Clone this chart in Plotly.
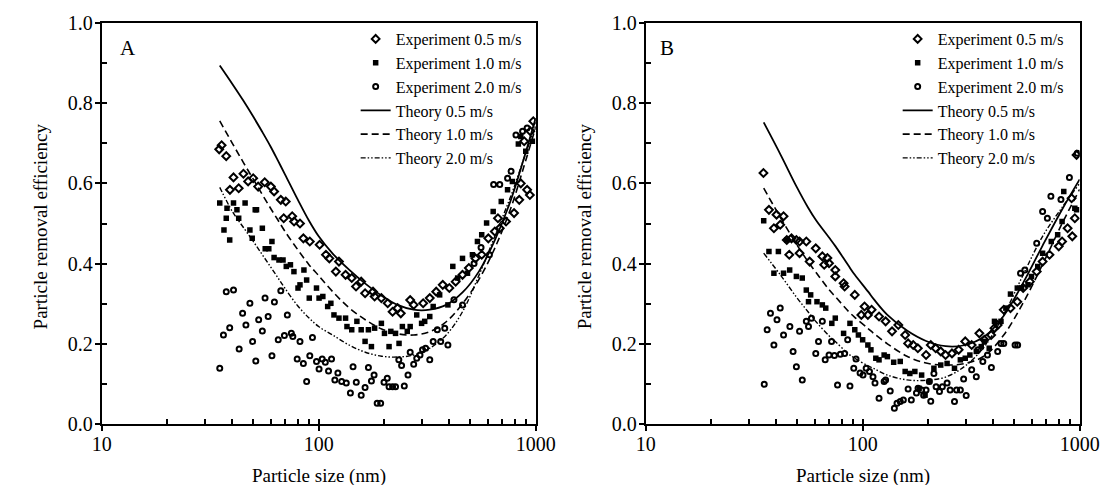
import plotly.graph_objects as go

# ---------------- data ----------------
x_major = [10, 100, 1000]
x_minor = [20, 30, 40, 50, 60, 70, 80, 90, 200, 300, 400, 500, 600, 700, 800, 900]
y_major = [0.0, 0.2, 0.4, 0.6, 0.8, 1.0]
y_minor = [0.1, 0.3, 0.5, 0.7, 0.9]

# Panel A theory curves
A_th_d = [35, 40, 45, 50, 55, 60, 65, 70, 80, 90, 100, 116, 138, 164, 195, 231, 274, 325, 387, 460, 547, 650, 770, 880, 1000]
A_th05 = [0.894, 0.848, 0.806, 0.766, 0.728, 0.692, 0.656, 0.622, 0.56, 0.508, 0.468, 0.425, 0.385, 0.35, 0.32, 0.297, 0.285, 0.285, 0.297, 0.328, 0.38, 0.46, 0.56, 0.66, 0.763]
A_th10 = [0.756, 0.7, 0.652, 0.61, 0.572, 0.538, 0.508, 0.48, 0.435, 0.398, 0.37, 0.33, 0.29, 0.26, 0.237, 0.225, 0.222, 0.23, 0.255, 0.3, 0.36, 0.44, 0.54, 0.64, 0.74]
A_th20 = [0.59, 0.53, 0.49, 0.455, 0.422, 0.392, 0.364, 0.338, 0.295, 0.265, 0.243, 0.222, 0.197, 0.179, 0.169, 0.167, 0.172, 0.189, 0.222, 0.28, 0.37, 0.47, 0.57, 0.66, 0.745]

# Panel A experiments
A_e05_d = [34.8, 35.7, 37.5, 39, 40.5, 42.8, 45, 47.3, 49.9, 52.6, 56.4, 60.2, 62.3, 66.9, 69, 70.5, 75.5, 77, 82, 85, 91, 101, 108, 112, 120, 124, 133, 142, 148.6, 157, 163.6, 178, 181, 194.5, 208, 219, 231, 239, 264, 274, 303, 325, 348, 373, 400, 428, 460, 492, 528, 564, 605, 648, 670, 683, 730, 795, 840, 854, 885, 913, 940, 945, 975]
A_e05_v = [0.685, 0.695, 0.668, 0.584, 0.615, 0.588, 0.624, 0.605, 0.613, 0.592, 0.603, 0.592, 0.58, 0.559, 0.513, 0.555, 0.518, 0.505, 0.5, 0.463, 0.455, 0.447, 0.422, 0.413, 0.38, 0.405, 0.372, 0.364, 0.343, 0.355, 0.326, 0.33, 0.318, 0.314, 0.301, 0.28, 0.289, 0.276, 0.309, 0.297, 0.301, 0.314, 0.33, 0.347, 0.339, 0.355, 0.372, 0.389, 0.413, 0.422, 0.463, 0.48, 0.513, 0.488, 0.505, 0.526, 0.559, 0.6, 0.705, 0.584, 0.571, 0.73, 0.755]

A_e10_d = [35, 36.6, 37.5, 37.8, 38.9, 40.5, 42, 42.8, 45.8, 48.2, 49.4, 51, 51.7, 55, 56.7, 58.9, 60.9, 62.3, 65.6, 68.5, 70.9, 74.1, 76.9, 80.3, 82, 85.5, 88, 90.5, 97.7, 100.4, 104.5, 110, 113.8, 117.6, 124, 133, 135, 142, 150, 157, 163.6, 169.5, 175, 181, 194.5, 201, 211, 215, 226, 234.6, 243, 256, 264, 283, 298, 308, 325, 337, 361, 394, 415, 437, 460, 485, 511, 539, 564, 594, 637, 694, 742, 781, 832, 854, 900, 966]
A_e10_v = [0.551, 0.484, 0.513, 0.538, 0.459, 0.551, 0.534, 0.513, 0.551, 0.484, 0.463, 0.534, 0.534, 0.488, 0.437, 0.437, 0.455, 0.415, 0.409, 0.409, 0.393, 0.397, 0.38, 0.339, 0.347, 0.384, 0.359, 0.314, 0.339, 0.314, 0.318, 0.293, 0.301, 0.272, 0.264, 0.264, 0.243, 0.235, 0.256, 0.235, 0.206, 0.235, 0.193, 0.239, 0.251, 0.226, 0.193, 0.231, 0.226, 0.201, 0.243, 0.231, 0.243, 0.272, 0.251, 0.256, 0.268, 0.293, 0.322, 0.297, 0.393, 0.364, 0.413, 0.376, 0.422, 0.455, 0.472, 0.501, 0.53, 0.555, 0.584, 0.605, 0.698, 0.717, 0.68, 0.705]

A_e20_d = [35, 36.4, 37.5, 38.9, 40.5, 43, 44.6, 46.2, 48.2, 49.6, 51.3, 52.9, 55, 56.6, 58.5, 60.9, 62.5, 65.1, 66.9, 69.5, 71.7, 74.8, 76, 79.6, 82, 85, 88, 91, 93.6, 97.7, 100.4, 103.8, 107.3, 111, 114.6, 118.7, 122.6, 127.6, 134, 140, 144, 149, 157, 163.6, 169.5, 175, 180, 186, 193, 200, 207, 211, 219, 226, 234, 241, 248, 258, 264, 274, 283, 293, 301, 311, 325, 337, 352, 365, 381, 394, 420, 460, 520, 560, 612, 640, 683, 742, 770, 811, 870, 913]
A_e20_v = [0.139, 0.222, 0.33, 0.24, 0.334, 0.187, 0.276, 0.247, 0.301, 0.206, 0.157, 0.26, 0.232, 0.314, 0.268, 0.17, 0.304, 0.21, 0.332, 0.221, 0.272, 0.226, 0.218, 0.162, 0.206, 0.151, 0.106, 0.17, 0.216, 0.156, 0.137, 0.162, 0.154, 0.132, 0.162, 0.11, 0.127, 0.106, 0.102, 0.077, 0.143, 0.104, 0.072, 0.091, 0.141, 0.107, 0.122, 0.052, 0.052, 0.104, 0.114, 0.093, 0.093, 0.093, 0.16, 0.146, 0.095, 0.122, 0.179, 0.149, 0.164, 0.172, 0.185, 0.189, 0.16, 0.206, 0.235, 0.206, 0.239, 0.197, 0.31, 0.297, 0.4, 0.44, 0.422, 0.597, 0.597, 0.613, 0.63, 0.721, 0.73, 0.738]

# Panel B theory curves
B_th_d = [35, 42, 49.6, 56, 61, 70, 75, 86, 92, 106, 113, 130, 160, 196, 241, 297, 364, 447, 549, 675, 830, 1000]
B_th05 = [0.752, 0.67, 0.592, 0.54, 0.508, 0.465, 0.443, 0.395, 0.372, 0.33, 0.31, 0.272, 0.233, 0.207, 0.194, 0.197, 0.218, 0.27, 0.352, 0.445, 0.535, 0.61]
B_th10 = [0.588, 0.513, 0.448, 0.405, 0.378, 0.335, 0.317, 0.281, 0.266, 0.238, 0.225, 0.2, 0.169, 0.152, 0.147, 0.151, 0.17, 0.222, 0.302, 0.398, 0.5, 0.585]
B_th20 = [0.426, 0.37, 0.316, 0.28, 0.255, 0.22, 0.205, 0.175, 0.164, 0.145, 0.138, 0.122, 0.11, 0.109, 0.117, 0.145, 0.193, 0.272, 0.372, 0.468, 0.54, 0.6]

# Panel B experiments
B_e05_d = [34.9, 37, 39, 40.1, 41.7, 43.2, 44.7, 45.9, 47, 49.5, 51.2, 51.2, 55, 57, 60.8, 65.2, 66.5, 68.8, 70, 74.8, 74.8, 81.7, 82.6, 92, 98.6, 102, 105.7, 110, 119, 127.6, 136.6, 146, 157, 162, 171, 179.6, 196, 206, 217, 229, 241, 258, 277, 297, 318, 345, 364, 391, 405, 419, 447, 480, 516, 549, 590, 634, 675, 726, 801, 830, 880, 918, 925, 950, 968]
B_e05_v = [0.626, 0.534, 0.488, 0.522, 0.497, 0.518, 0.459, 0.422, 0.463, 0.459, 0.455, 0.426, 0.455, 0.405, 0.438, 0.418, 0.397, 0.414, 0.401, 0.384, 0.368, 0.351, 0.343, 0.322, 0.272, 0.293, 0.272, 0.285, 0.268, 0.256, 0.231, 0.247, 0.222, 0.201, 0.197, 0.189, 0.172, 0.197, 0.189, 0.181, 0.172, 0.176, 0.185, 0.206, 0.197, 0.226, 0.21, 0.222, 0.239, 0.247, 0.285, 0.289, 0.305, 0.339, 0.355, 0.38, 0.405, 0.422, 0.443, 0.455, 0.488, 0.563, 0.468, 0.513, 0.671]

B_e10_d = [35, 37, 39, 40.9, 43.2, 44.7, 46.1, 49.5, 52.7, 55, 56.3, 57.6, 61.6, 65.2, 67.6, 72.1, 74.8, 81.7, 87.4, 92, 95.6, 100, 105.7, 109.2, 115, 119, 125.6, 130, 139, 149, 157, 165, 174, 182, 187, 194, 203, 213, 229, 245, 265, 282, 297, 312, 334, 352, 364, 383, 405, 434, 457, 480, 516, 540, 578, 600, 641, 675, 740, 792, 830, 845, 950, 968]
B_e10_v = [0.507, 0.43, 0.376, 0.43, 0.376, 0.459, 0.384, 0.368, 0.364, 0.334, 0.305, 0.322, 0.305, 0.297, 0.289, 0.251, 0.264, 0.226, 0.251, 0.235, 0.222, 0.21, 0.197, 0.185, 0.164, 0.16, 0.172, 0.168, 0.154, 0.156, 0.131, 0.126, 0.131, 0.089, 0.122, 0.072, 0.106, 0.139, 0.147, 0.151, 0.139, 0.16, 0.164, 0.172, 0.181, 0.193, 0.206, 0.189, 0.256, 0.256, 0.289, 0.324, 0.339, 0.339, 0.347, 0.368, 0.393, 0.426, 0.455, 0.472, 0.505, 0.58, 0.538, 0.534]

B_e20_d = [35.2, 36.3, 37.6, 39, 40.3, 41.7, 43.2, 46.2, 47.8, 49.5, 51.2, 52.7, 55, 56.3, 58.1, 60.8, 62.6, 65.2, 67.2, 70, 71.9, 74.1, 76.6, 78.9, 82.6, 85.3, 87.4, 91, 93.2, 97.3, 100.4, 103.8, 107.5, 111.6, 114, 119, 125.6, 127.6, 134, 140, 144, 149, 154, 162, 167.6, 177, 180, 187, 191, 196, 203, 206, 213, 218, 226, 233, 245, 253, 265, 271, 282, 292, 300, 318, 334, 340, 358, 376, 392, 419, 434, 447, 504, 518, 534, 559, 634, 675, 710, 737, 820, 897, 975]
B_e20_v = [0.099, 0.235, 0.276, 0.197, 0.26, 0.289, 0.222, 0.243, 0.181, 0.143, 0.231, 0.11, 0.256, 0.243, 0.264, 0.176, 0.206, 0.256, 0.16, 0.172, 0.206, 0.171, 0.097, 0.174, 0.176, 0.21, 0.095, 0.139, 0.162, 0.127, 0.122, 0.139, 0.131, 0.118, 0.102, 0.064, 0.106, 0.11, 0.082, 0.039, 0.052, 0.056, 0.06, 0.087, 0.06, 0.077, 0.089, 0.085, 0.072, 0.085, 0.106, 0.057, 0.126, 0.093, 0.081, 0.093, 0.102, 0.085, 0.056, 0.085, 0.085, 0.112, 0.071, 0.135, 0.118, 0.185, 0.156, 0.172, 0.141, 0.181, 0.201, 0.201, 0.197, 0.197, 0.376, 0.384, 0.451, 0.53, 0.513, 0.568, 0.56, 0.615, 0.675]

legend_names = ["Experiment 0.5 m/s", "Experiment 1.0 m/s", "Experiment 2.0 m/s",
                "Theory 0.5 m/s", "Theory 1.0 m/s", "Theory 2.0 m/s"]

# ---------------- figure ----------------
FONT = "Liberation Serif"
W, H = 1115, 485
MT, MB = 15, 69
fig = go.Figure()

panels = [
    dict(x="x", y="y", leg="legend",
         exp=[(A_e05_d, A_e05_v), (A_e10_d, A_e10_v), (A_e20_d, A_e20_v)],
         th=(A_th_d, [A_th05, A_th10, A_th20])),
    dict(x="x2", y="y2", leg="legend2",
         exp=[(B_e05_d, B_e05_v), (B_e10_d, B_e10_v), (B_e20_d, B_e20_v)],
         th=(B_th_d, [B_th05, B_th10, B_th20])),
]
markers = [
    dict(symbol="diamond-open", size=6, color="black", line=dict(width=2, color="black")),
    dict(symbol="square", size=5.5, color="black"),
    dict(symbol="circle-open", size=5, color="black", line=dict(width=2, color="black")),
]
dashes = ["solid", "7px,4px", "5px,2px,1.5px,2px,1.5px,2px"]
widths = [1.8, 1.6, 1.4]

for p in panels:
    for i, (d, v) in enumerate(p["exp"]):
        fig.add_trace(go.Scatter(x=d, y=v, mode="markers", marker=markers[i],
                                 name=legend_names[i], xaxis=p["x"], yaxis=p["y"],
                                 legend=p["leg"]))
    td, curves = p["th"]
    for i, v in enumerate(curves):
        fig.add_trace(go.Scatter(x=td, y=v, mode="lines", name=legend_names[3 + i],
                                 line=dict(color="black", width=widths[i], dash=dashes[i],
                                           shape="spline", smoothing=1.0),
                                 xaxis=p["x"], yaxis=p["y"], legend=p["leg"]))

# empty traces that activate the tick-overlay axes
fig.add_trace(go.Scatter(x=[], y=[], xaxis="x3", yaxis="y3", showlegend=False))
fig.add_trace(go.Scatter(x=[], y=[], xaxis="x4", yaxis="y4", showlegend=False))

domA = [86 / W, 532 / W]
domB = [645 / W, 1091 / W]
tickfont = dict(family=FONT, size=20, color="black")

def xmain(dom, anchor):
    return dict(type="log", range=[1, 3], domain=dom, anchor=anchor,
                tickvals=x_major, ticktext=[str(v) for v in x_major],
                ticks="outside", ticklen=5, tickwidth=1.5, tickcolor="black",
                ticklabelstandoff=-4,
                showline=True, linewidth=2, linecolor="black", mirror=True,
                showgrid=False, zeroline=False, tickfont=tickfont)

def ymain(anchor):
    return dict(range=[0, 1], domain=[0, 1], anchor=anchor,
                tickvals=y_major, ticktext=["%.1f" % v for v in y_major],
                ticks="outside", ticklen=5, tickwidth=1.5, tickcolor="black",
                ticklabelstandoff=-2,
                showline=True, linewidth=2, linecolor="black", mirror=True,
                showgrid=False, zeroline=False, tickfont=tickfont)

def xover(base, anchor):
    return dict(type="log", range=[1, 3], overlaying=base, anchor=anchor,
                tickvals=x_major + x_minor, ticks="inside", ticklen=5, tickwidth=1.5,
                tickcolor="black", showticklabels=False, showline=False,
                showgrid=False, zeroline=False)

def yover(base, anchor):
    return dict(range=[0, 1], overlaying=base, anchor=anchor,
                tickvals=y_major + y_minor, ticks="inside", ticklen=5, tickwidth=1.5,
                tickcolor="black", showticklabels=False, showline=False,
                showgrid=False, zeroline=False)

legend_common = dict(font=dict(family=FONT, size=16, color="black"),
                     bgcolor="rgba(0,0,0,0)", borderwidth=0, tracegroupgap=0,
                     itemwidth=30, xanchor="left", yanchor="top")

def py(px):  # pixel from top of figure -> paper y
    return 1 - (px - MT) / (H - MT - MB)

fig.update_layout(
    width=W, height=H, margin=dict(l=0, r=0, t=MT, b=MB),
    paper_bgcolor="white", plot_bgcolor="white",
    xaxis=xmain(domA, "y"), yaxis=ymain("x"),
    xaxis2=xmain(domB, "y2"), yaxis2=ymain("x2"),
    xaxis3=xover("x", "y3"), yaxis3=yover("y", "x3"),
    xaxis4=xover("x2", "y4"), yaxis4=yover("y2", "x4"),
    legend=dict(x=347 / W, y=py(14), xref="paper", yref="paper", **legend_common),
    legend2=dict(x=904 / W, y=py(14), xref="paper", yref="paper", **legend_common),
    showlegend=True,
)

ann = []
for letter, xl in [("A", 103), ("B", 658)]:
    ann.append(dict(text=letter, x=xl / W, y=py(40), xref="paper", yref="paper",
                    xanchor="left", yanchor="middle", showarrow=False,
                    font=dict(family=FONT, size=21, color="black")))
for xc in [(86 + 532) / 2, (645 + 1091) / 2]:
    ann.append(dict(text="Particle size (nm)", x=xc / W, y=py(468), xref="paper", yref="paper",
                    xanchor="center", yanchor="middle", showarrow=False,
                    font=dict(family=FONT, size=19, color="black")))
for xc in [23, 582]:
    ann.append(dict(text="Particle removal efficiency", x=xc / W, y=py(218), xref="paper",
                    yref="paper", xanchor="center", yanchor="middle", textangle=-90,
                    showarrow=False, font=dict(family=FONT, size=19, color="black")))
fig.update_layout(annotations=ann)

fig.write_html("out.html")
